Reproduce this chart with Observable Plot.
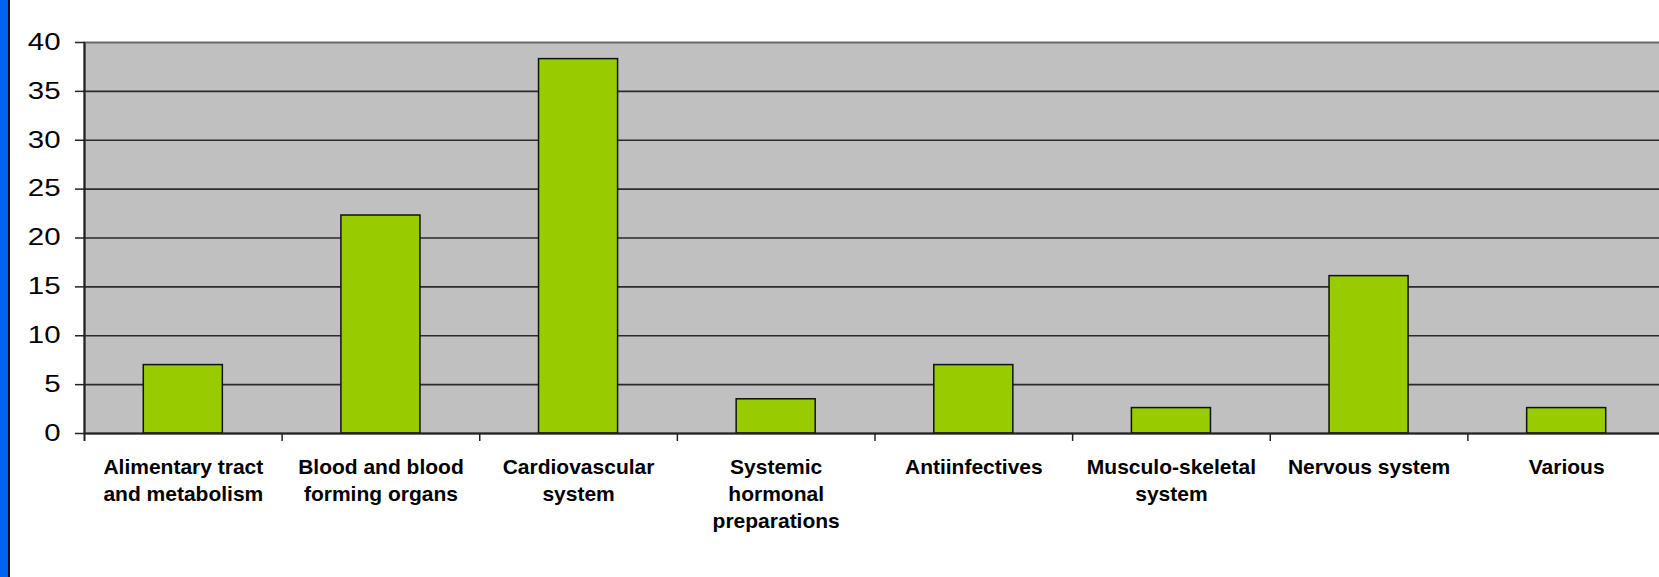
<!DOCTYPE html>
<html><head><meta charset="utf-8">
<script src="https://cdn.jsdelivr.net/npm/d3@7"></script>
<script src="https://cdn.jsdelivr.net/npm/@observablehq/plot@0.6"></script>
<style>
html,body{margin:0;padding:0;background:#fff;}
#wrap{position:relative;width:1659px;height:577px;overflow:hidden;}
#strip{position:absolute;left:0;top:0;width:8px;height:577px;background:#0062F2;border-right:2px solid #111;}
</style></head><body><div id="wrap"><div id="strip"></div></div>
<script>
const categories = ["Alimentary tract and metabolism", "Blood and blood forming organs", "Cardiovascular system", "Systemic hormonal preparations", "Antiinfectives", "Musculo-skeletal system", "Nervous system", "Various"];
const tickLabels = ["Alimentary tract\nand metabolism", "Blood and blood\nforming organs", "Cardiovascular\nsystem", "Systemic\nhormonal\npreparations", "Antiinfectives", "Musculo-skeletal\nsystem", "Nervous system", "Various"];
const values = [7.0, 22.3, 38.3, 3.5, 7.0, 2.6, 16.1, 2.6];
const yTicks = [0, 5, 10, 15, 20, 25, 30, 35, 40];
const gridTicks = [5, 10, 15, 20, 25, 30, 35];
const data = categories.map((c, i) => ({category: c, value: values[i]}));

const W = 1659, H = 577, mL = 84, mR = -6, mT = 42, mB = 144;
const n = categories.length, pIn = 0.6, pOut = 0.3;
const step = (W - mL - mR) / (n - pIn + 2 * pOut);

const chart = Plot.plot({
  width: W, height: H, marginLeft: mL, marginRight: mR, marginTop: mT, marginBottom: mB,
  style: {fontFamily: "'Liberation Sans', Arial, sans-serif", background: "transparent", color: "#000"},
  x: {domain: categories, paddingInner: pIn, paddingOuter: pOut, round: false},
  y: {domain: [0, 40]},
  marks: [
    Plot.frame({fill: "#C0C0C0", stroke: "#6a6a6a", strokeWidth: 2}),
    Plot.ruleY(gridTicks, {stroke: "#2b2b2b", strokeWidth: 1.6}),
    Plot.barY(data, {x: "category", y: "value", fill: "#99CC00", stroke: "#111", strokeWidth: 1.5}),
    Plot.ruleY([0], {stroke: "#222", strokeWidth: 2}),
    Plot.ruleX([categories[0]], {y1: 40, y2: 0, dx: -step / 2, insetBottom: -8, stroke: "#222", strokeWidth: 2}),
    Plot.ruleX(categories.slice(1), {y1: 0, y2: 0, dx: -step / 2, insetBottom: -8, stroke: "#222", strokeWidth: 1.5}),
    Plot.axisY({ticks: yTicks, tickSize: 9, tickPadding: 15, fontSize: 23, stroke: "#222", strokeWidth: 1.5, label: null}),
    Plot.axisX({tickSize: 0, tickPadding: 22, fontSize: 21, fontWeight: "bold", lineHeight: 1.27, tickFormat: (d) => tickLabels[categories.indexOf(d)], label: null})
  ]
});
d3.select(chart).selectAll('g[aria-label="y-axis tick label"] text').each(function() {
  const t = this.getAttribute("transform") || "";
  this.setAttribute("transform", t + " scale(1.28,1)");
});
document.getElementById("wrap").appendChild(chart);
</script>
</body></html>
